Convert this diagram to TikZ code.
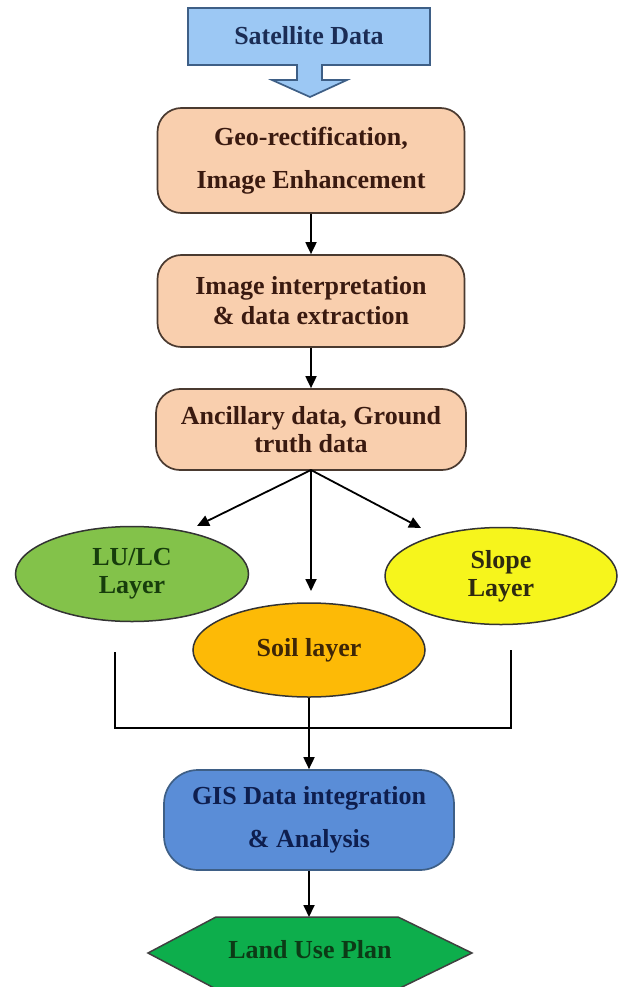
\documentclass[tikz,border=0pt]{standalone}
\usepackage{fontspec}
\setmainfont{Liberation Serif}
\usetikzlibrary{shapes.geometric,arrows.meta}
\definecolor{satfill}{HTML}{9CC8F4}
\definecolor{satdraw}{HTML}{3E5F86}
\definecolor{sattext}{HTML}{1B2D55}
\definecolor{peach}{HTML}{F9CFAE}
\definecolor{peachdraw}{HTML}{4A3A30}
\definecolor{peachtext}{HTML}{3A1A10}
\definecolor{lgreen}{HTML}{83C24A}
\definecolor{lgreentext}{HTML}{173D0C}
\definecolor{yel}{HTML}{F6F51C}
\definecolor{yeltext}{HTML}{2E2A10}
\definecolor{orng}{HTML}{FDBA06}
\definecolor{orngtext}{HTML}{3E2606}
\definecolor{gisblue}{HTML}{5A8DD7}
\definecolor{gistext}{HTML}{0E1E4E}
\definecolor{hexgreen}{HTML}{0DAE4C}
\definecolor{hextext}{HTML}{0C3A16}
\tikzset{
  txt/.style={font=\fontsize{26}{28}\selectfont\bfseries, align=center},
  procbox/.style={txt, draw=peachdraw, fill=peach, line width=1.7pt, rounded corners=24pt, minimum width=307pt, inner sep=0pt, text=peachtext},
  layer/.style={txt, ellipse, draw=black!80, line width=1.5pt, inner sep=0pt},
  arr/.style={line width=1.8pt, -{Triangle[length=12pt,width=11pt]}},
  plain/.style={line width=1.6pt}
}
\begin{document}
\begin{tikzpicture}[x=1pt,y=-1pt]
\useasboundingbox[fill=white] (0,0) rectangle (618,987);
% Satellite callout
\path[fill=satfill, draw=satdraw, line width=1.7pt, line join=miter]
  (188,8) -- (430,8) -- (430,65) -- (322,65) -- (322,80) -- (347,80) -- (310,97)
  -- (272,80) -- (297,80) -- (297,65) -- (188,65) -- cycle;
\node[txt, text=sattext] (sat) at (309,36) {Satellite Data};
% process boxes
\node[procbox, minimum height=105pt] (geo) at (311,160.5) {Geo-rectification,\\[15pt]Image Enhancement};
\node[procbox, minimum height=92pt] (img) at (311,301) {Image interpretation\\[2pt]\& data extraction};
\node[procbox, minimum height=81pt, minimum width=310pt] (anc) at (311,429.5) {Ancillary data, Ground\\truth data};
\draw[arr] (geo.south) -- (img.north);
\draw[arr] (img.south) -- (anc.north);
% layers
\node[layer, fill=lgreen, text=lgreentext, minimum width=233pt, minimum height=95pt] (lulc) at (132,574) {LU/LC\\Layer};
\node[layer, fill=yel, text=yeltext, minimum width=232pt, minimum height=97pt] (slope) at (501,576) {Slope\\Layer};
\node[layer, fill=orng, text=orngtext, minimum width=232pt, minimum height=94pt] (soil) at (309,650) {Soil layer};
\coordinate (src) at (311,470);
\coordinate (tl) at (197,526);
\coordinate (tc) at (311,591);
\coordinate (tr) at (421,528);
\draw[arr] (src) -- (tl);
\draw[arr] (src) -- (tc);
\draw[arr] (src) -- (tr);
% bracket
\coordinate (lv) at (115,652);
\coordinate (rv) at (511,650);
\coordinate (hy) at (0,728);
\draw[plain] (lv) -- (lv |- hy) -- (rv |- hy) -- (rv);
% GIS
\node[txt, draw=satdraw, fill=gisblue, text=gistext, line width=1.7pt, rounded corners=34pt, minimum width=290pt, minimum height=100pt, inner sep=0pt] (gis) at (309,820) {GIS Data integration\\[15pt]\& Analysis};
\draw[arr] (soil.south) -- (gis.north);
% Land use plan hexagon
\path[fill=hexgreen, draw=black!75, line width=1.5pt]
  (148,953) -- (216,917) -- (398,917) -- (472,953) -- (398,989) -- (216,989) -- cycle;
\node[txt, text=hextext] (lup) at (310,950) {Land Use Plan};
\coordinate (hextop) at (309,917);
\draw[arr] (gis.south) -- (hextop);
\end{tikzpicture}
\end{document}
